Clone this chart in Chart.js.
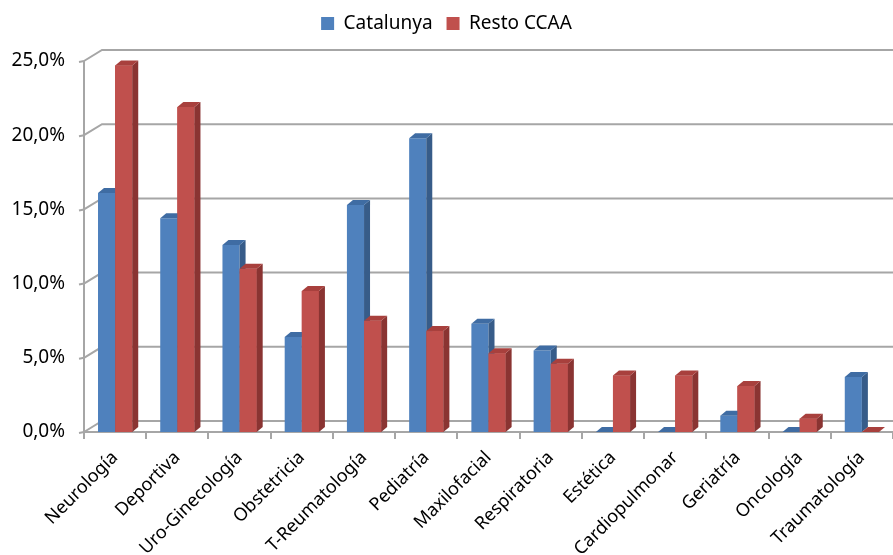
<!DOCTYPE html>
<html>
<head>
<meta charset="utf-8">
<script src="https://cdn.jsdelivr.net/npm/chart.js@4/dist/chart.umd.min.js"></script>
<style>
  html, body { margin: 0; padding: 0; background: #fff; overflow: hidden; }
  #wrap { width: 893px; height: 555px; position: relative; }
</style>
</head>
<body>
<div id="wrap"><canvas id="chart"></canvas></div>
<script>
  var categories = ['Neurología', 'Deportiva', 'Uro-Ginecología', 'Obstetricia', 'T-Reumatología', 'Pediatría',
    'Maxilofacial', 'Respiratoria', 'Estética', 'Cardiopulmonar', 'Geriatría', 'Oncología', 'Traumatología'];
  var catalunya = [16.1, 14.4, 12.6, 6.4, 15.3, 19.8, 7.3, 5.5, 0, 0, 1.1, 0, 3.7];
  var restoCCAA = [24.7, 21.9, 11.0, 9.5, 7.5, 6.8, 5.3, 4.6, 3.8, 3.8, 3.1, 0.9, 0];
  var yTicks = [0, 5, 10, 15, 20, 25];

  var fronts = ['#4F81BD', '#C0504D'];
  var sides = ['#375C89', '#8A3432'];
  var tops = ['#3F6CA3', '#A8403D'];
  var gridColor = '#A6A6A6';

  // extra room under the legend
  var legendGap = {
    id: 'legendGap',
    beforeInit: function (chart) {
      var fit = chart.legend.fit;
      chart.legend.fit = function () {
        fit.call(this);
        this.height += 18;
      };
    }
  };

  // back wall and floor, drawn behind the bars
  var wall = {
    id: 'wall',
    beforeDatasetsDraw: function (chart) {
      var ctx = chart.ctx;
      var y = chart.scales.y;
      var a = chart.chartArea;
      var dx = 18, dy = 11;
      ctx.save();
      ctx.strokeStyle = gridColor;
      ctx.lineWidth = 2;
      yTicks.forEach(function (v) {
        var py = y.getPixelForValue(v);
        ctx.beginPath();
        ctx.moveTo(a.left, py);
        ctx.lineTo(a.left + dx, py - dy);
        ctx.lineTo(a.right, py - dy);
        ctx.stroke();
        ctx.beginPath();
        ctx.moveTo(a.left - 5, py + 1);
        ctx.lineTo(a.left, py);
        ctx.stroke();
      });
      ctx.beginPath();
      ctx.moveTo(a.left, y.getPixelForValue(25));
      ctx.lineTo(a.left, y.getPixelForValue(0));
      ctx.lineTo(a.right, y.getPixelForValue(0));
      ctx.stroke();
      ctx.restore();
    }
  };

  // side and top faces of each column
  var depth = {
    id: 'depth',
    afterDatasetsDraw: function (chart) {
      var ctx = chart.ctx;
      var dx = 6, dy = 5;
      var metas = [chart.getDatasetMeta(0), chart.getDatasetMeta(1)];
      ctx.save();
      for (var i = 0; i < categories.length; i++) {
        metas.forEach(function (meta, di) {
          var p = meta.data[i].getProps(['x', 'y', 'base', 'width'], true);
          var l = p.x - p.width / 2, r = p.x + p.width / 2;
          if (di > 0) {
            ctx.fillStyle = fronts[di];
            ctx.fillRect(l, p.y, p.width, p.base - p.y);
          }
          ctx.fillStyle = sides[di];
          ctx.beginPath();
          ctx.moveTo(r, p.y);
          ctx.lineTo(r + dx, p.y - dy);
          ctx.lineTo(r + dx, p.base - dy);
          ctx.lineTo(r, p.base);
          ctx.closePath();
          ctx.fill();
          ctx.fillStyle = tops[di];
          ctx.beginPath();
          ctx.moveTo(l, p.y);
          ctx.lineTo(l + dx, p.y - dy);
          ctx.lineTo(r + dx, p.y - dy);
          ctx.lineTo(r, p.y);
          ctx.closePath();
          ctx.fill();
        });
      }
      ctx.restore();
    }
  };

  var ctx = document.getElementById('chart').getContext('2d');
  var chart = new Chart(ctx, {
    type: 'bar',
    data: {
      labels: categories,
      datasets: [
        { label: 'Catalunya', data: catalunya, backgroundColor: fronts[0], borderWidth: 0 },
        { label: 'Resto CCAA', data: restoCCAA, backgroundColor: fronts[1], borderWidth: 0 }
      ]
    },
    options: {
      responsive: true,
      maintainAspectRatio: false,
      animation: false,
      layout: { padding: { top: 0, right: 0, left: 0, bottom: 0 } },
      datasets: { bar: { categoryPercentage: 0.55, barPercentage: 1.0 } },
      plugins: {
        tooltip: { enabled: false },
        legend: {
          position: 'top',
          labels: {
            boxWidth: 13, boxHeight: 13, padding: 14,
            color: '#000',
            font: { family: 'Noto Sans', size: 19 }
          }
        }
      },
      scales: {
        x: {
          grid: { display: true, drawOnChartArea: false, offset: true, tickLength: 7, color: gridColor, lineWidth: 2 },
          border: { display: false },
          ticks: {
            minRotation: 45, maxRotation: 45, autoSkip: false, padding: 8,
            color: '#000',
            font: { family: 'Noto Sans', size: 18 }
          },
          afterFit: function (s) { s.height = 123; }
        },
        y: {
          min: 0, max: 25,
          grid: { display: false, drawTicks: false },
          border: { display: false },
          ticks: {
            stepSize: 5, padding: 19,
            color: '#000',
            font: { family: 'Noto Sans', size: 19 },
            callback: function (v) { return v.toFixed(1).replace('.', ',') + '%'; }
          },
          afterFit: function (s) { s.width = 84; }
        }
      }
    },
    plugins: [legendGap, wall, depth]
  });
</script>
</body>
</html>
